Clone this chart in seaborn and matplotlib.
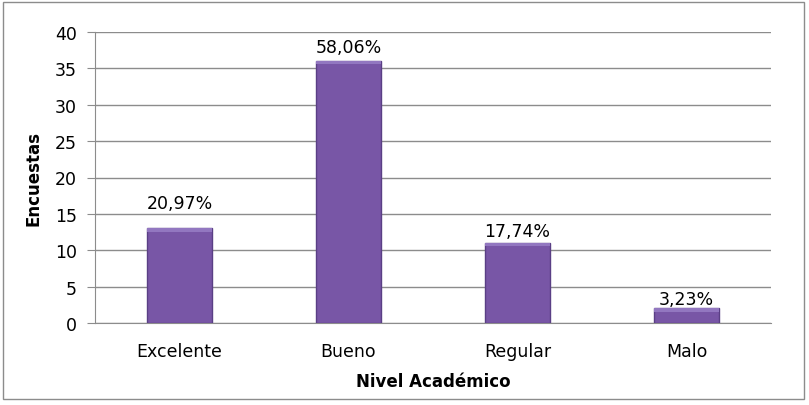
import matplotlib
matplotlib.use("Agg")
import matplotlib.pyplot as plt
import seaborn as sns
import pandas as pd
from matplotlib.patches import Rectangle

categories = ["Excelente", "Bueno", "Regular", "Malo"]
values = [13, 36, 11, 2]
labels = ["20,97%", "58,06%", "17,74%", "3,23%"]
yticks = [0, 5, 10, 15, 20, 25, 30, 35, 40]

df = pd.DataFrame({"cat": categories, "val": values})

sns.set_style("white")
plt.rcParams['font.family'] = ['DejaVu Sans']
plt.rcParams['text.color'] = 'black'
plt.rcParams['axes.labelcolor'] = 'black'
plt.rcParams['xtick.color'] = 'black'
plt.rcParams['ytick.color'] = 'black'

fig = plt.figure(figsize=(8.09, 4.06), dpi=100)
ax = fig.add_axes([95/809, 1-324/406, (771-95)/809, (324-33)/406])

sns.barplot(data=df, x="cat", y="val", ax=ax, color="#7856a6", width=0.39,
            saturation=1, edgecolor="#5a3f85", linewidth=1, zorder=3)

# subtle bevel highlight on top of each bar
for p in list(ax.patches):
    x, w, h = p.get_x(), p.get_width(), p.get_height()
    hh = min(0.45, h * 0.3)
    ax.add_patch(Rectangle((x, h - hh), w, hh, facecolor="#9277c0",
                           edgecolor="none", zorder=4))

ax.set_ylim(0, 40)
ax.set_yticks(yticks)
ax.set_yticklabels([str(t) for t in yticks])
ax.grid(axis="y", color="#8c8c8c", linewidth=1, zorder=0)
ax.set_axisbelow(True)
for s in ["top", "right"]:
    ax.spines[s].set_visible(False)
ax.spines["left"].set_color("#8c8c8c")
ax.spines["bottom"].set_color("#8c8c8c")
ax.tick_params(axis="y", length=6, color="#8c8c8c", labelcolor="black",
               labelsize=12.5, pad=7, left=True)
ax.tick_params(axis="x", length=0, labelcolor="black", labelsize=12.5, pad=14)

label_offsets = [2.75, 1.25, 1.0, 0.55]
for i, (v, lab, off) in enumerate(zip(values, labels, label_offsets)):
    ax.text(i, v + off, lab, ha="center", va="baseline", fontsize=12.5,
            color="black")

ax.set_xlabel("Nivel Académico", fontsize=12, fontweight="bold", labelpad=8)
ax.set_ylabel("Encuestas", fontsize=12, fontweight="bold", labelpad=9)

fig.patches.append(Rectangle((3/809, 6/406), 801/809, 397/406, transform=fig.transFigure,
                             fill=False, edgecolor="#8c8c8c", linewidth=1))

fig.savefig("out.png", dpi=100)
